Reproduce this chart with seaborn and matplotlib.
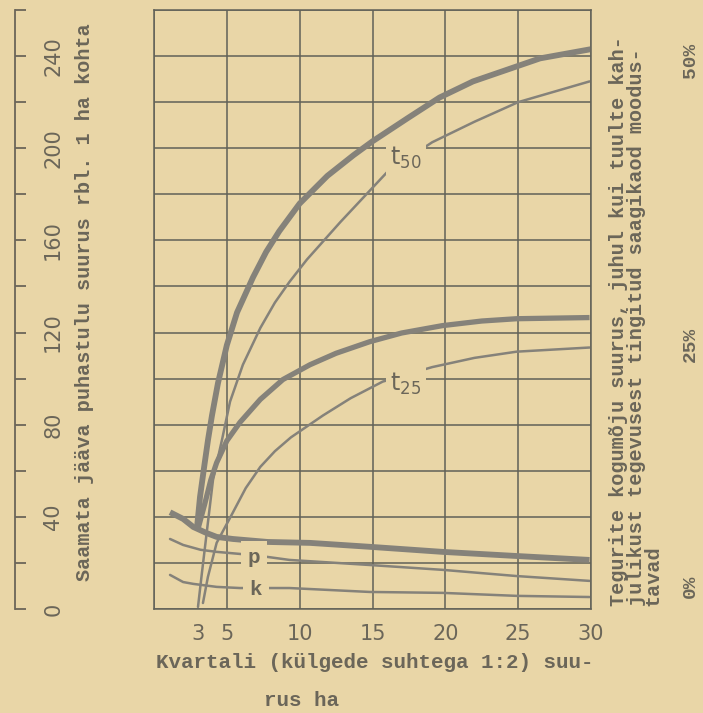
import numpy as np
import matplotlib
matplotlib.use("Agg")
import matplotlib.pyplot as plt
import matplotlib.transforms as mtransforms
import seaborn as sns

# curves (x = kvartali suurus ha, y = rbl / ha)
x_total = [1.1, 2.0, 2.7, 3.6, 4.3, 5.4, 7.8, 10.7, 14.8, 19.8, 24.9, 29.9]
y_total = [42.0, 39.1, 35.6, 33.0, 31.3, 30.4, 29.1, 28.7, 27.0, 24.8, 23.0, 21.3]

x_p = [1.1, 2.0, 3.2, 4.3, 5.9, 7.8, 9.3, 14.8, 19.8, 24.9, 29.9]
y_p = [30.4, 27.8, 25.7, 24.8, 23.9, 22.6, 21.3, 19.1, 17.0, 14.3, 12.2]

x_k = [1.1, 2.0, 2.7, 4.3, 5.9, 9.3, 14.8, 19.8, 24.9, 29.9]
y_k = [14.8, 11.7, 10.9, 9.6, 9.1, 9.1, 7.4, 7.0, 5.7, 5.2]

x_t50_thick = [2.95, 3.16, 3.45, 3.71, 3.98, 4.39, 5.0, 5.7, 6.8, 7.7, 8.6, 10.0, 11.9, 13.7, 15.0, 17.4, 19.6, 21.9, 24.2, 26.5, 30.0]
y_t50_thick = [35.2, 48.7, 62.0, 73.5, 84.0, 98.0, 114.5, 128.7, 144, 155, 164, 176, 188, 197, 203, 213, 222, 229, 234, 239, 243]

x_t50_thin = [3.02, 3.29, 3.64, 4.05, 4.67, 5.22, 6.1, 7.3, 8.3, 9.3, 10.5, 12.8, 16.0, 19.1, 22.0, 25.0, 29.9]
y_t50_thin = [0.9, 15.7, 34.3, 56, 73.5, 90.0, 106, 122, 133, 142, 151.7, 168, 189.6, 202.6, 211.5, 220, 229]

x_t25_thick = [3.0, 3.5, 3.9, 4.3, 5.0, 5.9, 7.3, 8.85, 10.7, 12.5, 14.8, 17.0, 19.8, 22.5, 24.9, 29.9]
y_t25_thick = [34.3, 46, 56, 63.5, 73.0, 81.0, 91.0, 99.6, 106, 111, 116, 119.8, 123, 125, 126, 126.5]

x_t25_thin = [3.36, 3.7, 4.3, 5.4, 6.3, 7.3, 8.3, 9.4, 11.6, 13.5, 15.7, 19.1, 22.0, 24.9, 29.9]
y_t25_thin = [2.6, 13.9, 28.7, 41.7, 52.5, 61.7, 68.5, 74.5, 84.0, 91.5, 98.7, 105, 109, 111.7, 113.5]

x_tick_pos = [3, 5, 10, 15, 20, 25, 30]
left_tick_pos = [0, 40, 80, 120, 160, 200, 240]
pct_labels = ['0%', '25%', '50%']
pct_pos = [10, 115, 238]

bg = '#e9d6a7'
grid_c = '#616158'
curve_c = '#85827a'
txt_c = '#6b6659'

sns.set_style('white', {'axes.facecolor': bg, 'figure.facecolor': bg})
plt.rcParams['font.family'] = ['DejaVu Sans']

fig = plt.figure(figsize=(7.03, 7.13), dpi=100)
fig.patch.set_facecolor(bg)
W, H = 703, 713
ax = fig.add_axes([154 / W, 1 - 609 / H, (591 - 154) / W, (609 - 10) / H])
ax.set_facecolor(bg)
ax.set_xlim(0, 30)
ax.set_ylim(0, 260)

# grid (minor ticks), labels on major ticks only
ax.xaxis.remove_overlapping_locs = False
ax.yaxis.remove_overlapping_locs = False
ax.set_xticks(np.arange(0, 31, 5), minor=True)
ax.set_yticks(np.arange(0, 261, 20), minor=True)
ax.set_yticks([])
ax.set_xticks(x_tick_pos)
ax.set_xticklabels([str(v) for v in x_tick_pos])
ax.grid(False)
ax.grid(True, which='minor', color=grid_c, linewidth=1.1)
ax.tick_params(which='both', length=0)
ax.tick_params(axis='x', pad=11, labelsize=15, labelcolor=txt_c)
for s in ax.spines.values():
    s.set_color(grid_c)
    s.set_linewidth(1.1)
    s.set_visible(True)

# curves
line_kw = dict(ax=ax, color=curve_c, sort=False, solid_joinstyle='round')
sns.lineplot(x=x_total, y=y_total, linewidth=4.2, solid_capstyle='butt', **line_kw)
sns.lineplot(x=x_t50_thick, y=y_t50_thick, linewidth=4.2, solid_capstyle='butt', **line_kw)
sns.lineplot(x=x_t25_thick, y=y_t25_thick, linewidth=3.8, solid_capstyle='butt', **line_kw)
sns.lineplot(x=x_t50_thin, y=y_t50_thin, linewidth=1.8, **line_kw)
sns.lineplot(x=x_t25_thin, y=y_t25_thin, linewidth=1.8, **line_kw)
sns.lineplot(x=x_p, y=y_p, linewidth=1.8, **line_kw)
sns.lineplot(x=x_k, y=y_k, linewidth=1.8, **line_kw)

# curve labels (masking grid and lines like the original)
box = dict(facecolor=bg, edgecolor='none', pad=3)
ax.text(17.3, 196, r'$\mathregular{t_{50}}$', fontsize=17, color=txt_c, ha='center', va='center', bbox=box, zorder=5)
ax.text(17.3, 97.5, r'$\mathregular{t_{25}}$', fontsize=17, color=txt_c, ha='center', va='center', bbox=box, zorder=5)
ax.text(6.85, 22.5, 'p', family='Liberation Mono', weight='bold', fontsize=15, color=txt_c,
        ha='center', va='center', bbox=dict(facecolor=bg, edgecolor='none', pad=5), zorder=5)
ax.text(7.0, 8.6, 'k', family='Liberation Mono', weight='bold', fontsize=15, color=txt_c,
        ha='center', va='center', bbox=dict(facecolor=bg, edgecolor='none', pad=5), zorder=5)

# separate left scale
ax2 = fig.add_axes([15 / W, 1 - 609 / H, 24 / W, (609 - 10) / H])
ax2.patch.set_alpha(0)
ax2.set_ylim(0, 260)
ax2.set_xticks([])
ax2.set_yticks(left_tick_pos)
ax2.set_yticks(np.arange(0, 261, 20), minor=True)
for side in ['top', 'right', 'bottom']:
    ax2.spines[side].set_visible(False)
ax2.spines['left'].set_color(txt_c)
ax2.spines['left'].set_linewidth(1.3)
ax2.tick_params(which='both', direction='in', length=8, width=1.3, color=txt_c,
                left=True, right=False, labelleft=False, labelright=True)
ax2.tick_params(axis='y', pad=3, labelsize=15, labelcolor=txt_c)
for lab in ax2.get_yticklabels():
    lab.set_rotation(90)
    lab.set_va('center')

mono = dict(family='Liberation Mono', weight='bold', color=txt_c)
fig.text(85 / W, 1 - 302 / H, 'Saamata jääva puhastulu suurus rbl. 1 ha kohta',
         rotation=90, ha='center', va='center', fontsize=14.5, **mono)
fig.text(375 / W, 1 - 662 / H, 'Kvartali (külgede suhtega 1:2) suu-',
         ha='center', va='center', fontsize=15, **mono)
fig.text(301 / W, 1 - 701 / H, 'rus ha', ha='center', va='center', fontsize=15, **mono)
fig.text(636 / W, 1 - 606 / H,
         'Tegurite kogumõju suurus, juhul kui tuulte kah-\n'
         'julikust tegevusest tingitud saagikaod moodus-\n'
         'tavad',
         rotation=90, ha='center', va='bottom', multialignment='left',
         linespacing=0.88, fontsize=14.5, **mono)

trans = mtransforms.blended_transform_factory(fig.transFigure, ax.transData)
for lab, pos in zip(pct_labels, pct_pos):
    fig.text(690 / W, pos, lab, transform=trans, rotation=90, ha='center', va='center',
             fontsize=14, **mono)

fig.savefig('out.png', dpi=100, facecolor=bg)
